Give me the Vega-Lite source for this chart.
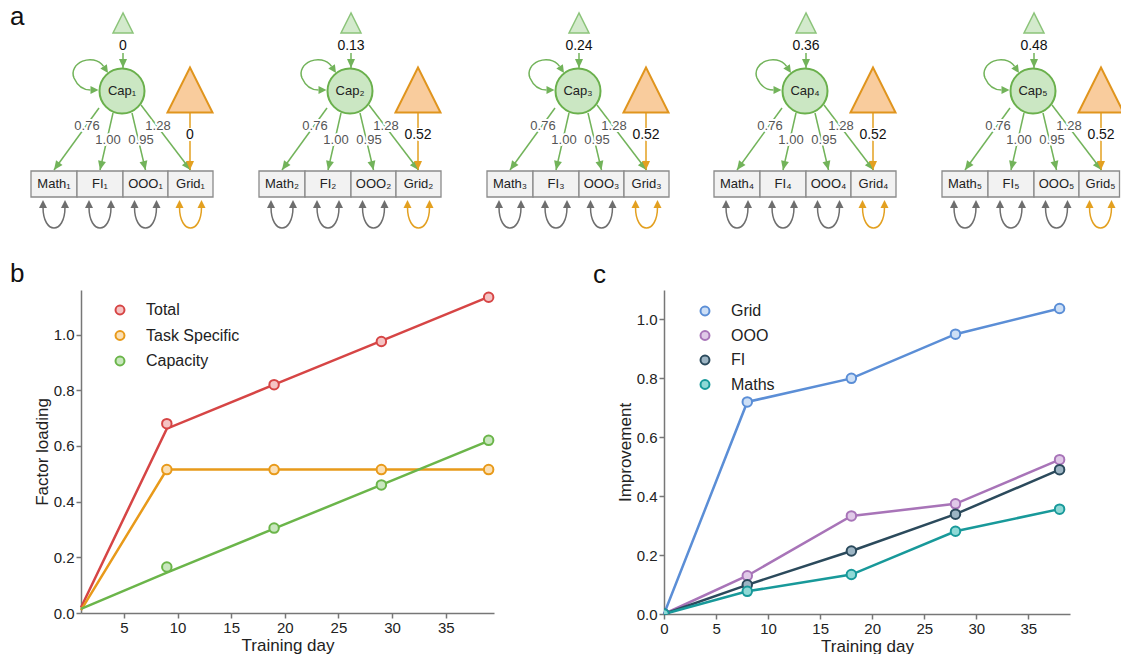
{
  "$schema": "https://vega.github.io/schema/vega-lite/v6.json",
  "padding": {"left": 10, "top": 0, "right": 0, "bottom": 0},
  "background": "white",
  "bounds": "flush",
  "spacing": 50,
  "resolve": {"scale": {"stroke": "independent", "fill": "independent", "x": "independent", "y": "independent"}, "legend": {"stroke": "independent", "fill": "independent"}},
  "config": {
    "view": {"stroke": null},
    "font": "Liberation Sans",
    "axis": {"domainColor": "#777", "domainWidth": 1.5, "tickColor": "#777", "tickWidth": 1.5, "tickSize": 5, "labelFontSize": 15, "labelColor": "#222", "titleFontSize": 17, "titleFontWeight": "normal", "titleColor": "#222", "grid": false, "labelPadding": 2, "titlePadding": 2, "labelFlush": false, "labelOverlap": false},
    "legend": {"orient": "none", "symbolType": "circle", "symbolSize": 80, "symbolStrokeWidth": 2, "labelFontSize": 16, "labelColor": "#222", "labelOffset": 18, "rowPadding": 7, "title": null},
    "title": {"fontSize": 26, "fontWeight": "normal", "color": "#111", "anchor": "start", "frame": "group", "baseline": "alphabetic"}
  },
  "datasets": {
    "tri_g": [{"x": 123, "y": 23}, {"x": 351, "y": 23}, {"x": 579, "y": 23}, {"x": 806, "y": 23}, {"x": 1034, "y": 23}],
    "tri_o": [{"x": 190, "y": 90}, {"x": 418, "y": 90}, {"x": 646, "y": 90}, {"x": 873, "y": 90}, {"x": 1101, "y": 90}],
    "caps": [{"x": 122, "y": 91, "label": "Cap₁"}, {"x": 350, "y": 91, "label": "Cap₂"}, {"x": 578, "y": 91, "label": "Cap₃"}, {"x": 805, "y": 91, "label": "Cap₄"}, {"x": 1033, "y": 91, "label": "Cap₅"}],
    "boxes": [
      {"x": 31, "x2": 77, "cx": 54, "y": 171, "y2": 197, "cy": 184, "label": "Math₁", "col": "n"},
      {"x": 77, "x2": 123, "cx": 100, "y": 171, "y2": 197, "cy": 184, "label": "FI₁", "col": "n"},
      {"x": 123, "x2": 168, "cx": 145.5, "y": 171, "y2": 197, "cy": 184, "label": "OOO₁", "col": "n"},
      {"x": 168, "x2": 213, "cx": 190.5, "y": 171, "y2": 197, "cy": 184, "label": "Grid₁", "col": "o"},
      {"x": 259, "x2": 305, "cx": 282, "y": 171, "y2": 197, "cy": 184, "label": "Math₂", "col": "n"},
      {"x": 305, "x2": 351, "cx": 328, "y": 171, "y2": 197, "cy": 184, "label": "FI₂", "col": "n"},
      {"x": 351, "x2": 396, "cx": 373.5, "y": 171, "y2": 197, "cy": 184, "label": "OOO₂", "col": "n"},
      {"x": 396, "x2": 441, "cx": 418.5, "y": 171, "y2": 197, "cy": 184, "label": "Grid₂", "col": "o"},
      {"x": 487, "x2": 533, "cx": 510, "y": 171, "y2": 197, "cy": 184, "label": "Math₃", "col": "n"},
      {"x": 533, "x2": 579, "cx": 556, "y": 171, "y2": 197, "cy": 184, "label": "FI₃", "col": "n"},
      {"x": 579, "x2": 624, "cx": 601.5, "y": 171, "y2": 197, "cy": 184, "label": "OOO₃", "col": "n"},
      {"x": 624, "x2": 669, "cx": 646.5, "y": 171, "y2": 197, "cy": 184, "label": "Grid₃", "col": "o"},
      {"x": 714, "x2": 760, "cx": 737, "y": 171, "y2": 197, "cy": 184, "label": "Math₄", "col": "n"},
      {"x": 760, "x2": 806, "cx": 783, "y": 171, "y2": 197, "cy": 184, "label": "FI₄", "col": "n"},
      {"x": 806, "x2": 851, "cx": 828.5, "y": 171, "y2": 197, "cy": 184, "label": "OOO₄", "col": "n"},
      {"x": 851, "x2": 896, "cx": 873.5, "y": 171, "y2": 197, "cy": 184, "label": "Grid₄", "col": "o"},
      {"x": 942, "x2": 988, "cx": 965, "y": 171, "y2": 197, "cy": 184, "label": "Math₅", "col": "n"},
      {"x": 988, "x2": 1034, "cx": 1011, "y": 171, "y2": 197, "cy": 184, "label": "FI₅", "col": "n"},
      {"x": 1034, "x2": 1079, "cx": 1056.5, "y": 171, "y2": 197, "cy": 184, "label": "OOO₅", "col": "n"},
      {"x": 1079, "x2": 1119.5, "cx": 1100.5, "y": 171, "y2": 197, "cy": 184, "label": "Grid₅", "col": "o"}
    ],
    "edges": [
      {"x": 99, "y": 108, "x2": 54, "y2": 170, "col": "g"}, {"x": 113, "y": 113, "x2": 100, "y2": 170, "col": "g"}, {"x": 132, "y": 113, "x2": 145.5, "y2": 170, "col": "g"}, {"x": 141, "y": 105, "x2": 190.5, "y2": 170, "col": "g"}, {"x": 123, "y": 53, "x2": 123, "y2": 68, "col": "g"}, {"x": 190, "y": 113, "x2": 190, "y2": 170, "col": "o"},
      {"x": 327, "y": 108, "x2": 282, "y2": 170, "col": "g"}, {"x": 341, "y": 113, "x2": 328, "y2": 170, "col": "g"}, {"x": 360, "y": 113, "x2": 373.5, "y2": 170, "col": "g"}, {"x": 369, "y": 105, "x2": 418.5, "y2": 170, "col": "g"}, {"x": 351, "y": 53, "x2": 351, "y2": 68, "col": "g"}, {"x": 418, "y": 113, "x2": 418, "y2": 170, "col": "o"},
      {"x": 555, "y": 108, "x2": 510, "y2": 170, "col": "g"}, {"x": 569, "y": 113, "x2": 556, "y2": 170, "col": "g"}, {"x": 588, "y": 113, "x2": 601.5, "y2": 170, "col": "g"}, {"x": 597, "y": 105, "x2": 646.5, "y2": 170, "col": "g"}, {"x": 579, "y": 53, "x2": 579, "y2": 68, "col": "g"}, {"x": 646, "y": 113, "x2": 646, "y2": 170, "col": "o"},
      {"x": 782, "y": 108, "x2": 737, "y2": 170, "col": "g"}, {"x": 796, "y": 113, "x2": 783, "y2": 170, "col": "g"}, {"x": 815, "y": 113, "x2": 828.5, "y2": 170, "col": "g"}, {"x": 824, "y": 105, "x2": 873.5, "y2": 170, "col": "g"}, {"x": 806, "y": 53, "x2": 806, "y2": 68, "col": "g"}, {"x": 873, "y": 113, "x2": 873, "y2": 170, "col": "o"},
      {"x": 1010, "y": 108, "x2": 965, "y2": 170, "col": "g"}, {"x": 1024, "y": 113, "x2": 1011, "y2": 170, "col": "g"}, {"x": 1043, "y": 113, "x2": 1056.5, "y2": 170, "col": "g"}, {"x": 1052, "y": 105, "x2": 1101.5, "y2": 170, "col": "g"}, {"x": 1034, "y": 53, "x2": 1034, "y2": 68, "col": "g"}, {"x": 1101, "y": 113, "x2": 1101, "y2": 170, "col": "o"}
    ],
    "labels": [
      {"x": 87, "y": 126, "text": "0.76", "kind": "load"}, {"x": 108, "y": 140, "text": "1.00", "kind": "load"}, {"x": 141, "y": 140, "text": "0.95", "kind": "load"}, {"x": 158, "y": 126, "text": "1.28", "kind": "load"}, {"x": 123, "y": 46, "text": "0", "kind": "icpt"}, {"x": 190, "y": 135, "text": "0", "kind": "icpt"},
      {"x": 315, "y": 126, "text": "0.76", "kind": "load"}, {"x": 336, "y": 140, "text": "1.00", "kind": "load"}, {"x": 369, "y": 140, "text": "0.95", "kind": "load"}, {"x": 386, "y": 126, "text": "1.28", "kind": "load"}, {"x": 351, "y": 46, "text": "0.13", "kind": "icpt"}, {"x": 418, "y": 135, "text": "0.52", "kind": "icpt"},
      {"x": 543, "y": 126, "text": "0.76", "kind": "load"}, {"x": 564, "y": 140, "text": "1.00", "kind": "load"}, {"x": 597, "y": 140, "text": "0.95", "kind": "load"}, {"x": 614, "y": 126, "text": "1.28", "kind": "load"}, {"x": 579, "y": 46, "text": "0.24", "kind": "icpt"}, {"x": 646, "y": 135, "text": "0.52", "kind": "icpt"},
      {"x": 770, "y": 126, "text": "0.76", "kind": "load"}, {"x": 791, "y": 140, "text": "1.00", "kind": "load"}, {"x": 824, "y": 140, "text": "0.95", "kind": "load"}, {"x": 841, "y": 126, "text": "1.28", "kind": "load"}, {"x": 806, "y": 46, "text": "0.36", "kind": "icpt"}, {"x": 873, "y": 135, "text": "0.52", "kind": "icpt"},
      {"x": 998, "y": 126, "text": "0.76", "kind": "load"}, {"x": 1019, "y": 140, "text": "1.00", "kind": "load"}, {"x": 1052, "y": 140, "text": "0.95", "kind": "load"}, {"x": 1069, "y": 126, "text": "1.28", "kind": "load"}, {"x": 1034, "y": 46, "text": "0.48", "kind": "icpt"}, {"x": 1101, "y": 135, "text": "0.52", "kind": "icpt"}
    ],
    "b_fit": [
      {"series": "Total", "day": 1, "value": 0.02}, {"series": "Total", "day": 9, "value": 0.662}, {"series": "Total", "day": 19, "value": 0.82}, {"series": "Total", "day": 29, "value": 0.977}, {"series": "Total", "day": 39, "value": 1.135},
      {"series": "Task Specific", "day": 1, "value": 0.01}, {"series": "Task Specific", "day": 9, "value": 0.515}, {"series": "Task Specific", "day": 19, "value": 0.515}, {"series": "Task Specific", "day": 29, "value": 0.515}, {"series": "Task Specific", "day": 39, "value": 0.515},
      {"series": "Capacity", "day": 1, "value": 0.015}, {"series": "Capacity", "day": 9, "value": 0.145}, {"series": "Capacity", "day": 19, "value": 0.303}, {"series": "Capacity", "day": 29, "value": 0.46}, {"series": "Capacity", "day": 39, "value": 0.618}
    ],
    "b_obs": [
      {"series": "Total", "day": 9, "value": 0.68}, {"series": "Total", "day": 19, "value": 0.82}, {"series": "Total", "day": 29, "value": 0.975}, {"series": "Total", "day": 39, "value": 1.134},
      {"series": "Task Specific", "day": 9, "value": 0.515}, {"series": "Task Specific", "day": 19, "value": 0.515}, {"series": "Task Specific", "day": 29, "value": 0.515}, {"series": "Task Specific", "day": 39, "value": 0.515},
      {"series": "Capacity", "day": 9, "value": 0.165}, {"series": "Capacity", "day": 19, "value": 0.305}, {"series": "Capacity", "day": 29, "value": 0.46}, {"series": "Capacity", "day": 39, "value": 0.62}
    ],
    "c_data": [
      {"series": "Grid", "day": 0, "value": 0}, {"series": "Grid", "day": 8, "value": 0.72}, {"series": "Grid", "day": 18, "value": 0.8}, {"series": "Grid", "day": 28, "value": 0.95}, {"series": "Grid", "day": 38, "value": 1.037},
      {"series": "OOO", "day": 0, "value": 0}, {"series": "OOO", "day": 8, "value": 0.13}, {"series": "OOO", "day": 18, "value": 0.333}, {"series": "OOO", "day": 28, "value": 0.374}, {"series": "OOO", "day": 38, "value": 0.524},
      {"series": "FI", "day": 0, "value": 0}, {"series": "FI", "day": 8, "value": 0.099}, {"series": "FI", "day": 18, "value": 0.214}, {"series": "FI", "day": 28, "value": 0.339}, {"series": "FI", "day": 38, "value": 0.49},
      {"series": "Maths", "day": 0, "value": 0}, {"series": "Maths", "day": 8, "value": 0.077}, {"series": "Maths", "day": 18, "value": 0.134}, {"series": "Maths", "day": 28, "value": 0.281}, {"series": "Maths", "day": 38, "value": 0.356}
    ]
  },
  "vconcat": [
    {
      "width": 1040,
      "height": 240,
      "title": {"text": "a", "dx": -71, "dy": 30, "offset": 0},
      "layer": [
        {
          "data": {"name": "boxes"},
          "mark": {"type": "point", "shape": "M-11,10 C-11,38 11,38 11,10", "filled": false, "size": 4, "strokeWidth": 1.5, "opacity": 1},
          "encoding": {
            "x": {"field": "cx", "type": "quantitative", "scale": {"domain": [81, 1121], "nice": false, "zero": false}, "axis": null},
            "y": {"field": "y2", "type": "quantitative", "scale": {"domain": [0, 240], "nice": false, "zero": false, "reverse": true}, "axis": null},
            "stroke": {"field": "col", "type": "nominal", "scale": {"domain": ["g", "o", "n"], "range": ["#72b35a", "#e3a020", "#6e6e6e"]}, "legend": null}
          }
        },
        {
          "data": {"name": "boxes"},
          "mark": {"type": "point", "shape": "M-11,3L-15,11L-7,11Z M11,3L7,11L15,11Z", "filled": true, "size": 4, "strokeWidth": 0, "opacity": 1},
          "encoding": {
            "x": {"field": "cx", "type": "quantitative", "axis": null},
            "y": {"field": "y2", "type": "quantitative", "axis": null},
            "fill": {"field": "col", "type": "nominal", "scale": {"domain": ["g", "o", "n"], "range": ["#72b35a", "#e3a020", "#6e6e6e"]}, "legend": null}
          }
        },
        {
          "data": {"name": "boxes"},
          "mark": {"type": "rect", "fill": "#f2f2f2", "stroke": "#8a8a8a", "strokeWidth": 1.3},
          "encoding": {
            "x": {"field": "x", "type": "quantitative", "axis": null},
            "x2": {"field": "x2"},
            "y": {"field": "y", "type": "quantitative", "axis": null},
            "y2": {"field": "y2"}
          }
        },
        {
          "data": {"name": "edges"},
          "mark": {"type": "rule", "strokeWidth": 1.5},
          "encoding": {
            "x": {"field": "x", "type": "quantitative", "axis": null},
            "y": {"field": "y", "type": "quantitative", "axis": null},
            "x2": {"field": "x2"},
            "y2": {"field": "y2"},
            "stroke": {"field": "col", "type": "nominal", "scale": {"domain": ["g", "o", "n"], "range": ["#72b35a", "#e3a020", "#6e6e6e"]}, "legend": null}
          }
        },
        {
          "data": {"name": "caps"},
          "mark": {"type": "point", "shape": "M-18.4,-24.6 C-29,-39 -54,-28 -48,-13 C-44,-4 -38,-1 -31.5,-1", "filled": false, "size": 4, "strokeWidth": 1.5, "stroke": "#72b35a", "opacity": 1},
          "encoding": {
            "x": {"field": "x", "type": "quantitative", "axis": null},
            "y": {"field": "y", "type": "quantitative", "axis": null}
          }
        },
        {
          "data": {"name": "tri_g"},
          "mark": {"type": "point", "shape": "M0,-1L-1,1L1,1Z", "filled": true, "size": 400, "fill": "#d3eacc", "stroke": "#8cc47a", "strokeWidth": 1.5, "opacity": 1},
          "encoding": {
            "x": {"field": "x", "type": "quantitative", "axis": null},
            "y": {"field": "y", "type": "quantitative", "axis": null}
          }
        },
        {
          "data": {"name": "tri_o"},
          "mark": {"type": "point", "shape": "M0,-1L-1,1L1,1Z", "filled": true, "size": 2025, "fill": "#f9cc9d", "stroke": "#e0951e", "strokeWidth": 2, "opacity": 1, "clip": true},
          "encoding": {
            "x": {"field": "x", "type": "quantitative", "axis": null},
            "y": {"field": "y", "type": "quantitative", "axis": null}
          }
        },
        {
          "data": {"name": "caps"},
          "mark": {"type": "point", "shape": "circle", "filled": true, "size": 2025, "fill": "#cbe7c3", "stroke": "#6ab04c", "strokeWidth": 2, "opacity": 1},
          "encoding": {
            "x": {"field": "x", "type": "quantitative", "axis": null},
            "y": {"field": "y", "type": "quantitative", "axis": null}
          }
        },
        {
          "data": {"name": "caps"},
          "mark": {"type": "point", "shape": "M-14,-18L-15.1,-26.8L-21.7,-22.4Z M-23.5,-1L-31.5,-5L-31.5,3Z", "filled": true, "size": 4, "fill": "#72b35a", "strokeWidth": 0, "opacity": 1},
          "encoding": {
            "x": {"field": "x", "type": "quantitative", "axis": null},
            "y": {"field": "y", "type": "quantitative", "axis": null}
          }
        },
        {
          "data": {"name": "edges"},
          "transform": [{"calculate": "atan2(-(datum.x2 - datum.x), datum.y2 - datum.y) * 180 / PI", "as": "ang"}],
          "mark": {"type": "point", "shape": "M0,0L-4,-9L4,-9Z", "filled": true, "size": 4, "strokeWidth": 0, "opacity": 1},
          "encoding": {
            "x": {"field": "x2", "type": "quantitative", "axis": null},
            "y": {"field": "y2", "type": "quantitative", "axis": null},
            "angle": {"field": "ang", "type": "quantitative", "scale": null},
            "fill": {"field": "col", "type": "nominal", "scale": {"domain": ["g", "o", "n"], "range": ["#72b35a", "#e3a020", "#6e6e6e"]}, "legend": null}
          }
        },
        {
          "data": {"name": "boxes"},
          "mark": {"type": "text", "fontSize": 13, "align": "center", "baseline": "middle", "fill": "#222"},
          "encoding": {
            "x": {"field": "cx", "type": "quantitative", "axis": null},
            "y": {"field": "cy", "type": "quantitative", "axis": null},
            "text": {"field": "label"}
          }
        },
        {
          "data": {"name": "caps"},
          "mark": {"type": "text", "fontSize": 13, "align": "center", "baseline": "middle", "fill": "#222"},
          "encoding": {
            "x": {"field": "x", "type": "quantitative", "axis": null},
            "y": {"field": "y", "type": "quantitative", "axis": null},
            "text": {"field": "label"}
          }
        },
        {
          "data": {"name": "labels"},
          "mark": {"type": "text", "fontSize": 13, "align": "center", "baseline": "middle", "fill": "#fff", "stroke": "#fff", "strokeWidth": 4, "strokeJoin": "round"},
          "encoding": {
            "x": {"field": "x", "type": "quantitative", "axis": null},
            "y": {"field": "y", "type": "quantitative", "axis": null},
            "text": {"field": "text"}
          }
        },
        {
          "data": {"name": "labels"},
          "transform": [{"filter": "datum.kind === 'load'"}],
          "mark": {"type": "text", "fontSize": 13, "align": "center", "baseline": "middle", "fill": "#555"},
          "encoding": {
            "x": {"field": "x", "type": "quantitative", "axis": null},
            "y": {"field": "y", "type": "quantitative", "axis": null},
            "text": {"field": "text"}
          }
        },
        {
          "data": {"name": "labels"},
          "transform": [{"filter": "datum.kind === 'icpt'"}],
          "mark": {"type": "text", "fontSize": 14, "align": "center", "baseline": "middle", "fill": "#111"},
          "encoding": {
            "x": {"field": "x", "type": "quantitative", "axis": null},
            "y": {"field": "y", "type": "quantitative", "axis": null},
            "text": {"field": "text"}
          }
        }
      ]
    },
    {
      "resolve": {"scale": {"stroke": "independent", "fill": "independent", "x": "independent", "y": "independent"}, "legend": {"stroke": "independent", "fill": "independent"}},
      "hconcat": [
        {
          "width": 413,
          "height": 323,
          "title": {"text": "b", "dx": -71, "dy": 4, "offset": 5},
          "layer": [
            {
              "data": {"name": "b_fit"},
              "mark": {"type": "line", "strokeWidth": 2.5},
              "encoding": {
                "x": {"field": "day", "type": "quantitative", "scale": {"domain": [1, 39.5], "nice": false, "zero": false}, "axis": {"values": [5, 10, 15, 20, 25, 30, 35], "title": "Training day"}},
                "y": {"field": "value", "type": "quantitative", "scale": {"domain": [0, 1.16], "nice": false}, "axis": {"values": [0, 0.2, 0.4, 0.6, 0.8, 1.0], "format": ".1f", "title": "Factor loading"}},
                "stroke": {"field": "series", "type": "nominal", "scale": {"domain": ["Total", "Task Specific", "Capacity"], "range": ["#d64545", "#e89a1a", "#6bb54a"]}, "legend": {"legendX": 31, "legendY": 12, "rowPadding": 7.5}}
              }
            },
            {
              "data": {"name": "b_obs"},
              "mark": {"type": "point", "filled": true, "size": 90, "strokeWidth": 2, "opacity": 1},
              "encoding": {
                "x": {"field": "day", "type": "quantitative"},
                "y": {"field": "value", "type": "quantitative"},
                "stroke": {"field": "series", "type": "nominal", "scale": {"domain": ["Total", "Task Specific", "Capacity"], "range": ["#d64545", "#e89a1a", "#6bb54a"]}, "legend": {"legendX": 31, "legendY": 12, "rowPadding": 7.5}},
                "fill": {"field": "series", "type": "nominal", "scale": {"domain": ["Total", "Task Specific", "Capacity"], "range": ["#f5c4c4", "#fbe0b5", "#c9e7be"]}, "legend": {"legendX": 31, "legendY": 12, "rowPadding": 7.5}}
              }
            }
          ]
        },
        {
          "width": 406,
          "height": 324,
          "title": {"text": "c", "dx": -71, "dy": 3, "offset": 5},
          "layer": [
            {
              "data": {"name": "c_data"},
              "mark": {"type": "line", "strokeWidth": 2.5},
              "encoding": {
                "x": {"field": "day", "type": "quantitative", "scale": {"domain": [0, 39], "nice": false, "zero": false}, "axis": {"values": [0, 5, 10, 15, 20, 25, 30, 35], "title": "Training day"}},
                "y": {"field": "value", "type": "quantitative", "scale": {"domain": [0, 1.1], "nice": false}, "axis": {"values": [0, 0.2, 0.4, 0.6, 0.8, 1.0], "format": ".1f", "title": "Improvement"}},
                "stroke": {"field": "series", "type": "nominal", "scale": {"domain": ["Grid", "OOO", "FI", "Maths"], "range": ["#5b8ed6", "#a874b8", "#2b4a5c", "#18999a"]}, "legend": {"legendX": 33, "legendY": 13, "rowPadding": 6.5}}
              }
            },
            {
              "data": {"name": "c_data"},
              "mark": {"type": "point", "filled": true, "size": 90, "strokeWidth": 2, "opacity": 1, "clip": true},
              "encoding": {
                "x": {"field": "day", "type": "quantitative"},
                "y": {"field": "value", "type": "quantitative"},
                "stroke": {"field": "series", "type": "nominal", "scale": {"domain": ["Grid", "OOO", "FI", "Maths"], "range": ["#5b8ed6", "#a874b8", "#2b4a5c", "#18999a"]}, "legend": {"legendX": 33, "legendY": 13, "rowPadding": 6.5}},
                "fill": {"field": "series", "type": "nominal", "scale": {"domain": ["Grid", "OOO", "FI", "Maths"], "range": ["#cddff6", "#e0c9e8", "#9db5c4", "#8fd9d6"]}, "legend": {"legendX": 33, "legendY": 13, "rowPadding": 6.5}}
              }
            }
          ]
        }
      ],
      "spacing": 170,
      "bounds": "flush"
    }
  ]
}
